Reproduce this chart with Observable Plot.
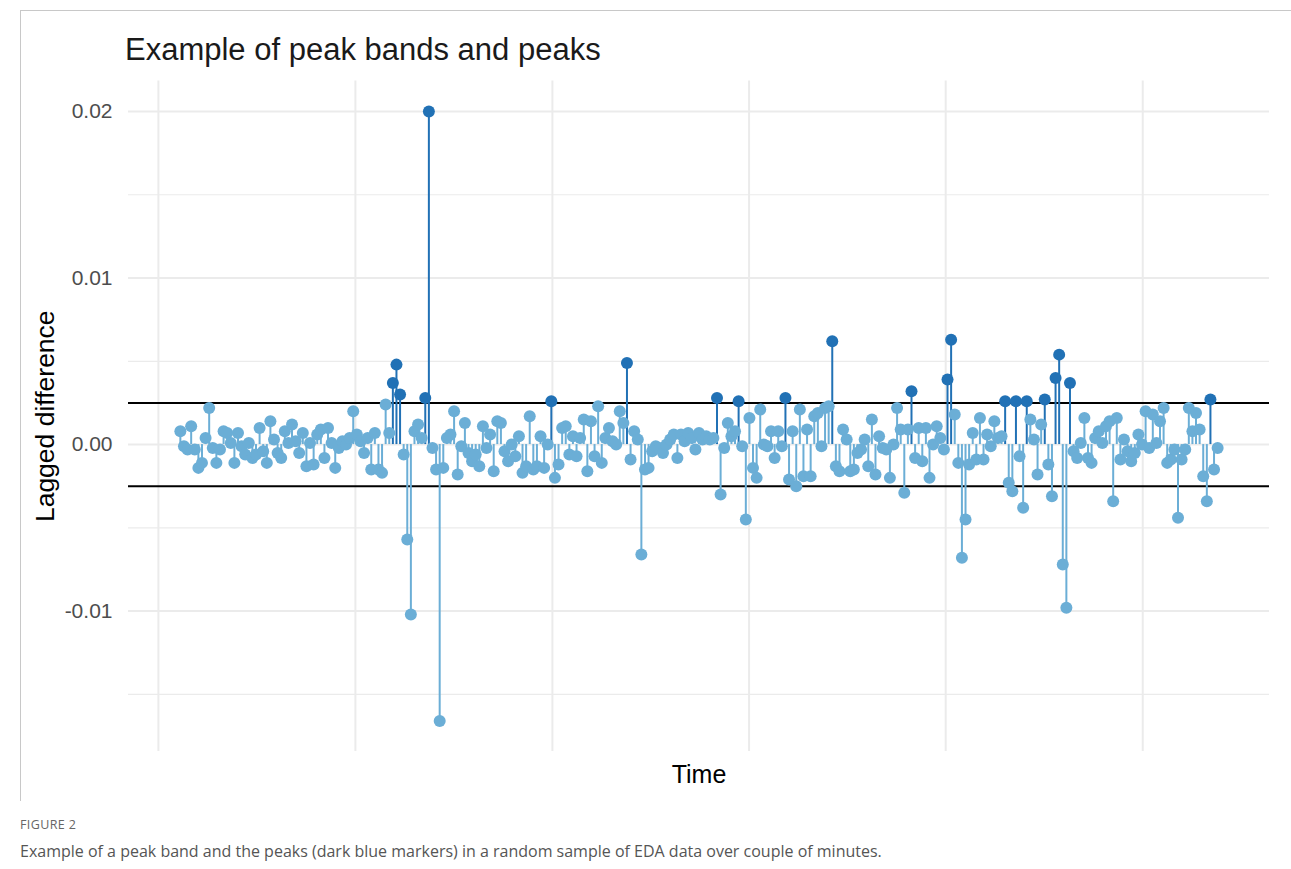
<!DOCTYPE html>
<html>
<head>
<meta charset="utf-8">
<script src="https://cdn.jsdelivr.net/npm/d3@7"></script>
<script src="https://cdn.jsdelivr.net/npm/@observablehq/plot@0.6"></script>
<style>
  html, body { margin: 0; padding: 0; background: #fff; }
  body { width: 1291px; height: 869px; position: relative; overflow: hidden; }
  #frame { position: absolute; left: 20px; top: 10px; width: 1271px; height: 790px;
           border-top: 1px solid #c8c8c8; border-left: 1px solid #c8c8c8; }
  #title { position: absolute; left: 125px; top: 34px; font-family: "Liberation Sans", Arial, sans-serif;
           font-size: 31px; line-height: 31px; color: #1a1a1a; white-space: nowrap; }
  #chart { position: absolute; left: 0; top: 72px; }
  #figlabel { position: absolute; left: 20px; top: 818px; font-family: "Open Sans", sans-serif;
              font-size: 12.5px; line-height: 14px; color: #666; letter-spacing: 0.4px; }
  #caption { position: absolute; left: 20px; top: 840px; font-family: "Open Sans", sans-serif;
             font-size: 16px; line-height: 22px; color: #555; white-space: nowrap; }
</style>
</head>
<body>
<div id="frame"></div>
<div id="title">Example of peak bands and peaks</div>
<div id="chart"></div>
<div id="figlabel">FIGURE 2</div>
<div id="caption">Example of a peak band and the peaks (dark blue markers) in a random sample of EDA data over couple of minutes.</div>
<script>
// Lagged differences of EDA samples (one per time step)
const laggedDiff = [
  0.0008, -0.0001, -0.0003, 0.0011, -0.0003, -0.0014, -0.0011, 0.0004, 0.0022, -0.0002,
  -0.0011, -0.0003, 0.0008, 0.0007, 0.0001, -0.0011, 0.0007, -0.0001, -0.0006, 0.0001,
  -0.0008, -0.0006, 0.0010, -0.0004, -0.0011, 0.0014, 0.0003, -0.0005, -0.0008, 0.0008,
  0.0001, 0.0012, 0.0002, -0.0005, 0.0007, -0.0013, 0.0001, -0.0012, 0.0006, 0.0009,
  -0.0008, 0.0010, 0.0001, -0.0014, -0.0002, 0.0002, 0.0000, 0.0004, 0.0020, 0.0006,
  0.0002, -0.0005, 0.0004, -0.0015, 0.0007, -0.0015, -0.0017, 0.0024, 0.0007, 0.0037,
  0.0048, 0.0030, -0.0006, -0.0057, -0.0102, 0.0008, 0.0012, 0.0004, 0.0028, 0.0200,
  -0.0002, -0.0015, -0.0166, -0.0014, 0.0004, 0.0006, 0.0020, -0.0018, -0.0001, 0.0013,
  -0.0005, -0.0010, -0.0006, -0.0013, 0.0011, -0.0002, 0.0006, -0.0016, 0.0014, 0.0013,
  -0.0004, -0.0010, 0.0000, -0.0007, 0.0005, -0.0017, -0.0013, 0.0017, -0.0015, -0.0013,
  0.0005, -0.0014, 0.0000, 0.0026, -0.0020, -0.0012, 0.0010, 0.0011, -0.0006, 0.0005,
  -0.0007, 0.0004, 0.0015, -0.0016, 0.0014, -0.0007, 0.0023, -0.0011, 0.0004, 0.0010,
  0.0002, 0.0000, 0.0020, 0.0013, 0.0049, -0.0009, 0.0008, 0.0003, -0.0066, -0.0015,
  -0.0014, -0.0004, -0.0001, -0.0002, -0.0005, 0.0000, 0.0003, 0.0006, -0.0008, 0.0006,
  0.0002, 0.0007, 0.0004, -0.0003, 0.0007, 0.0003, 0.0005, 0.0003, 0.0004, 0.0028,
  -0.0030, -0.0002, 0.0013, 0.0005, 0.0008, 0.0026, -0.0001, -0.0045, 0.0016, -0.0014,
  -0.0020, 0.0021, 0.0000, -0.0001, 0.0008, -0.0008, 0.0008, -0.0001, 0.0028, -0.0021,
  0.0008, -0.0025, 0.0021, -0.0019, 0.0009, -0.0019, 0.0017, 0.0019, -0.0001, 0.0022,
  0.0023, 0.0062, -0.0013, -0.0016, 0.0009, 0.0003, -0.0016, -0.0015, -0.0005, -0.0003,
  0.0003, -0.0013, 0.0015, -0.0018, 0.0005, -0.0002, -0.0003, -0.0020, 0.0000, 0.0022,
  0.0009, -0.0029, 0.0009, 0.0032, -0.0008, 0.0010, -0.0010, 0.0010, -0.0020, 0.0000,
  0.0011, 0.0004, -0.0003, 0.0039, 0.0063, 0.0018, -0.0011, -0.0068, -0.0045, -0.0012,
  0.0007, -0.0009, 0.0016, -0.0009, 0.0006, -0.0001, 0.0014, 0.0004, 0.0005, 0.0026,
  -0.0023, -0.0028, 0.0026, -0.0007, -0.0038, 0.0026, 0.0015, 0.0003, -0.0018, 0.0012,
  0.0027, -0.0012, -0.0031, 0.0040, 0.0054, -0.0072, -0.0098, 0.0037, -0.0004, -0.0008,
  0.0001, 0.0016, -0.0008, -0.0011, 0.0004, 0.0008, 0.0001, 0.0011, 0.0014, -0.0034,
  0.0016, -0.0009, 0.0003, -0.0004, -0.0010, -0.0005, 0.0006, 0.0000, 0.0020, -0.0002,
  0.0018, 0.0001, 0.0014, 0.0022, -0.0011, -0.0009, -0.0003, -0.0044, -0.0009, -0.0003,
  0.0022, 0.0008, 0.0019, 0.0009, -0.0019, -0.0034, 0.0027, -0.0015, -0.0002
];
const peakBand = 0.0025;                 // band limits at ±peakBand
const yTicks = [-0.01, 0, 0.01, 0.02];
const yMinorTicks = [-0.015, -0.005, 0.005, 0.015];
const xGridTicks = [-6.1, 48.6, 103.3, 157.9, 212.5, 267.2];
const lightBlue = "#6baed6";
const darkBlue = "#2171b5";

const data = laggedDiff.map((v, i) => ({t: i, v, peak: v > peakBand}));
const n = laggedDiff.length;
const ext = d3.extent(laggedDiff);
const padY = (ext[1] - ext[0]) * 0.05;
const padX = (n - 1) * 0.05;

const chart = Plot.plot({
  width: 1291,
  height: 730,
  marginLeft: 128,
  marginRight: 22,
  marginTop: 8.5,
  marginBottom: 51,
  style: {fontFamily: "'Liberation Sans', Arial, sans-serif", background: "transparent"},
  x: {domain: [-padX, n - 1 + padX], axis: null},
  y: {domain: [ext[0] - padY, ext[1] + padY]},
  marks: [
    Plot.ruleY(yMinorTicks, {stroke: "#ebebeb", strokeWidth: 1.2}),
    Plot.ruleY(yTicks, {stroke: "#ebebeb", strokeWidth: 2}),
    Plot.ruleX(xGridTicks, {stroke: "#ebebeb", strokeWidth: 2}),
    Plot.axisY(yTicks, {tickSize: 0, tickPadding: 16, tickFormat: d => d.toFixed(2),
      fontSize: 21, fill: "#4d4d4d", label: null}),
    Plot.text(["Lagged difference"], {frameAnchor: "left", textAnchor: "middle", rotate: -90, dx: -83,
      fontSize: 26.5, fill: "#000"}),
    Plot.text(["Time"], {frameAnchor: "bottom", textAnchor: "middle", dy: 31, fontSize: 25, fill: "#000"}),
    Plot.ruleY([peakBand, -peakBand], {stroke: "#000", strokeWidth: 2}),
    Plot.ruleX(data, {x: "t", y1: 0, y2: "v", stroke: d => d.peak ? darkBlue : lightBlue, strokeWidth: 2}),
    Plot.dot(data.filter(d => !d.peak), {x: "t", y: "v", r: 6, fill: lightBlue}),
    Plot.dot(data.filter(d => d.peak), {x: "t", y: "v", r: 6, fill: darkBlue})
  ]
});
document.getElementById("chart").appendChild(chart);
</script>
</body>
</html>
